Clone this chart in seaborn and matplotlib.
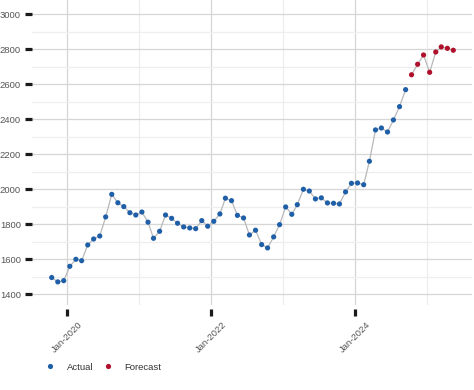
import pandas as pd
import numpy as np
import matplotlib
matplotlib.use("Agg")
import matplotlib.pyplot as plt
import matplotlib.dates as mdates
from matplotlib.ticker import MultipleLocator
import seaborn as sns

# monthly values
actual_values = [1495, 1470, 1477, 1559, 1599, 1591, 1681, 1715, 1732, 1841,
                 1970, 1922, 1900, 1865, 1852, 1869, 1811, 1719, 1759, 1852,
                 1833, 1805, 1784, 1778, 1774, 1820, 1788, 1816, 1858, 1948,
                 1934, 1850, 1835, 1738, 1765, 1683, 1664, 1727, 1797, 1898,
                 1856, 1911, 1999, 1989, 1944, 1950, 1921, 1919, 1915, 1984,
                 2033, 2035, 2025, 2159, 2338, 2349, 2326, 2395, 2471, 2568]
forecast_values = [2653, 2713, 2766, 2667, 2783, 2812, 2804, 2793]

actual_dates = pd.date_range("2019-10-01", periods=len(actual_values), freq="MS") + pd.Timedelta(days=14)
forecast_dates = pd.date_range("2024-10-01", periods=len(forecast_values), freq="MS") + pd.Timedelta(days=14)

df = pd.concat([
    pd.DataFrame({"date": actual_dates, "value": actual_values, "type": "Actual"}),
    pd.DataFrame({"date": forecast_dates, "value": forecast_values, "type": "Forecast"}),
], ignore_index=True)

sns.set_style("white")
plt.rcParams["font.family"] = ["Liberation Sans", "DejaVu Sans"]

fig = plt.figure(figsize=(4.74, 3.90), dpi=100)
ax = fig.add_axes([32 / 474, 1 - 305 / 390, 440 / 474, 305 / 390])

sns.lineplot(data=df, x="date", y="value", hue="type",
             palette={"Actual": "#b8b8b8", "Forecast": "#b8b8b8"},
             linewidth=0.9, legend=False, ax=ax, zorder=2)
sns.scatterplot(data=df, x="date", y="value", hue="type",
                palette={"Actual": "#1f5fa8", "Forecast": "#b0102c"},
                s=14, linewidth=0, ax=ax, zorder=3)

ax.set_xlim(pd.Timestamp("2019-07-07"), pd.Timestamp("2025-08-18"))
ax.set_ylim(1338, 3080)

ax.xaxis.set_major_locator(mdates.YearLocator(2))
ax.xaxis.set_minor_locator(mdates.YearLocator(1))
ax.xaxis.set_major_formatter(mdates.DateFormatter("%b-%Y"))
ax.yaxis.set_major_locator(MultipleLocator(200))
ax.yaxis.set_minor_locator(MultipleLocator(100))

ax.grid(which="major", color="#d6d6d6", linewidth=0.9)
ax.grid(which="minor", color="#eeeeee", linewidth=0.9)
for s in ax.spines.values():
    s.set_visible(False)
ax.spines["bottom"].set_position(("outward", 3))

ax.tick_params(which="major", bottom=True, left=True, length=5, width=2.3,
               color="#1a1a1a", labelsize=6.8, labelcolor="#555555", pad=3)
ax.tick_params(which="minor", bottom=False, left=False, length=0)
plt.setp(ax.get_xticklabels(), rotation=45, ha="center")
ax.set_xlabel("")
ax.set_ylabel("")

handles, labels = ax.get_legend_handles_labels()
ax.legend(handles, labels, loc="center left", bbox_to_anchor=(41 / 474, 1 - 367 / 390),
          bbox_transform=fig.transFigure, ncol=2, frameon=False, fontsize=6.8,
          handlelength=1.0, handletextpad=1.2, columnspacing=1.1, borderpad=0,
          labelcolor="#333333")

fig.savefig("out.png", dpi=100)
